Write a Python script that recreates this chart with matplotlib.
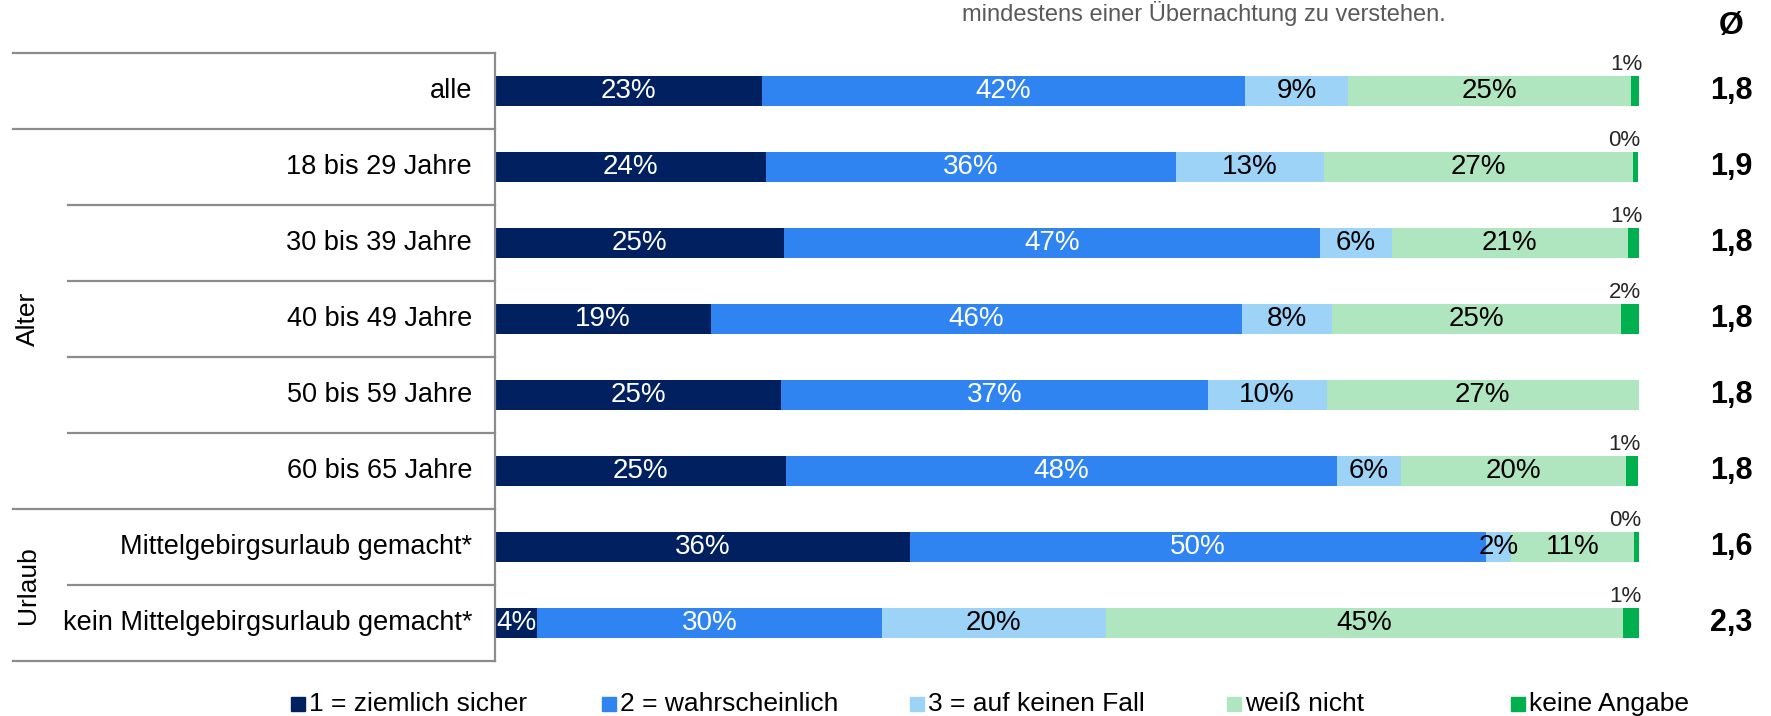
import matplotlib
matplotlib.use('Agg')
import matplotlib.pyplot as plt
from matplotlib.patches import Rectangle
from matplotlib.transforms import blended_transform_factory

plt.rcParams['font.family'] = ['Liberation Sans', 'DejaVu Sans']

# data (percent shares)
rows = ['alle', '18 bis 29 Jahre', '30 bis 39 Jahre', '40 bis 49 Jahre',
        '50 bis 59 Jahre', '60 bis 65 Jahre', 'Mittelgebirgsurlaub gemacht*',
        'kein Mittelgebirgsurlaub gemacht*']
sicher = [23.3, 23.7, 25.3, 18.9, 25.0, 25.4, 36.3, 3.7]
wahrscheinlich = [42.3, 35.8, 46.8, 46.4, 37.3, 48.2, 50.3, 30.1]
keinen_fall = [9.0, 13.0, 6.3, 7.9, 10.4, 5.6, 2.2, 19.6]
weiss_nicht = [24.7, 27.0, 20.6, 25.2, 27.3, 19.7, 10.8, 45.2]
keine_angabe = [0.8, 0.4, 1.1, 1.6, 0.0, 1.0, 0.4, 1.4]
means = ['1,8', '1,9', '1,8', '1,8', '1,8', '1,8', '1,6', '2,3']

series_names = ['1 = ziemlich sicher', '2 = wahrscheinlich', '3 = auf keinen Fall',
                'weiß nicht', 'keine Angabe']
colors = ['#002060', '#2F84F2', '#9DD3F7', '#AFE6BF', '#00B04F']
text_colors = ['white', 'white', 'black', 'black']

W, H = 1771, 716
fig = plt.figure(figsize=(W / 100, H / 100), dpi=100)
ax = fig.add_axes([495 / W, 1 - 661 / H, (1639 - 495) / W, 608 / H])
ax.set_xlim(0, 100)
ax.set_ylim(7.5, -0.5)
ax.axis('off')

series = [sicher, wahrscheinlich, keinen_fall, weiss_nicht, keine_angabe]
left = [0.0] * len(rows)
for k, vals in enumerate(series):
    ax.barh(range(len(rows)), vals, left=left, height=0.39, color=colors[k])
    for i, v in enumerate(vals):
        if k < 4 and v > 0:
            ax.text(left[i] + v / 2, i, f'{v:.0f}%', ha='center', va='center',
                    color=text_colors[k], fontsize=20)
    left = [l + v for l, v in zip(left, vals)]

# small labels for "keine Angabe" above the bar end
for i, v in enumerate(keine_angabe):
    if v > 0:
        ax.text(left[i] + 0.2, i - 0.21, f'{v:.0f}%', ha='right', va='bottom',
                fontsize=16, color='#262626')

trans = blended_transform_factory(fig.transFigure, ax.transData)

# row labels
for i, r in enumerate(rows):
    ax.text(472 / W, i, r, transform=trans, ha='right', va='center', fontsize=19.5)

# mean column
ax.text(1731 / W, -0.86, 'Ø', transform=trans, ha='center', va='center',
        fontsize=23, fontweight='bold')
for i, m in enumerate(means):
    ax.text(1731 / W, i, m, transform=trans, ha='center', va='center',
            fontsize=22, fontweight='bold')

# table lines
line_kw = dict(color='#8c8c8c', lw=1.6, transform=trans, clip_on=False)
for b in [x - 0.5 for x in range(len(rows) + 1)]:
    x0 = 13 / W if b in (-0.5, 0.5, 5.5, 7.5) else 68 / W
    ax.plot([x0, 495 / W], [b, b], **line_kw)
ax.plot([495 / W, 495 / W], [-0.5, 7.5], **line_kw)

# group labels
ax.text(28 / W, 3.0, 'Alter', transform=trans, rotation=90, ha='center',
        va='center', fontsize=19)
ax.text(28 / W, 6.5, 'Urlaub', transform=trans, rotation=90, ha='center',
        va='center', fontsize=19)

# note text at the top (cut off in the original)
fig.text(1204 / W, 1 - 14 / H, 'mindestens einer Übernachtung zu verstehen.',
         ha='center', va='center', color='#595959', fontsize=17)

# legend
leg_x = [291, 602, 910, 1227, 1511]
for x, c, name in zip(leg_x, colors, series_names):
    fig.add_artist(Rectangle((x / W, (H - 704 - 7) / H), 14 / W, 14 / H,
                             transform=fig.transFigure, color=c))
    fig.text((x + 18) / W, 1 - 704 / H, name, ha='left', va='center', fontsize=19)

plt.savefig('out.png', dpi=100)
